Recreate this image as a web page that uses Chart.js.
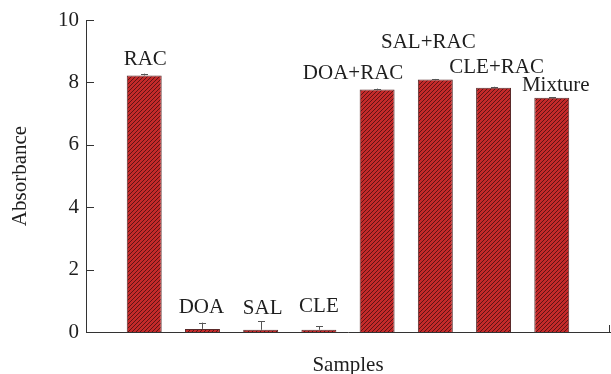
<!DOCTYPE html>
<html>
<head>
<meta charset="utf-8">
<script src="https://cdn.jsdelivr.net/npm/chart.js@4"></script>
<style>
  html, body { margin: 0; padding: 0; background: #fff; }
  #wrap { width: 611px; height: 374px; }
</style>
</head>
<body>
<div id="wrap"><canvas id="chart" width="611" height="374"></canvas></div>
<script>
// data
const samples = ["RAC", "DOA", "SAL", "CLE", "DOA+RAC", "SAL+RAC", "CLE+RAC", "Mixture"]
const absorbance = [8.22, 0.10, 0.07, 0.07, 7.77, 8.09, 7.83, 7.51]
const errors = [0.06, 0.20, 0.28, 0.11, 0.03, 0.02, 0.03, 0.02]
const yTicks = [0, 2, 4, 6, 8, 10]

// label nudges in px [dx, dy above error bar top] -- layout only
const labelNudge = [[1, 16], [-1, 17], [2, 14], [0, 21], [-24, 17], [-7, 38], [3, 21], [4, 13]]

const serif = "'Liberation Serif', 'DejaVu Serif', serif"
const ink = "#1e1e1e"

function hatch() {
  const c = document.createElement("canvas")
  c.width = 4
  c.height = 4
  const g = c.getContext("2d")
  g.fillStyle = "#c42a2a"
  g.fillRect(0, 0, 4, 4)
  g.strokeStyle = "#5e1414"
  g.lineWidth = 1
  g.beginPath()
  g.moveTo(0, 4); g.lineTo(4, 0)
  g.moveTo(-1, 1); g.lineTo(1, -1)
  g.moveTo(3, 5); g.lineTo(5, 3)
  g.stroke()
  return g.createPattern(c, "repeat")
}

// inward ticks, error bars and the sample names
const extras = {
  id: "extras",
  afterDatasetsDraw(chart) {
    const {ctx, scales: {x, y}} = chart
    ctx.save()
    ctx.strokeStyle = "#333"
    ctx.lineWidth = 1
    yTicks.forEach(t => {
      const py = Math.round(y.getPixelForValue(t)) + 0.5
      ctx.beginPath()
      ctx.moveTo(x.left, py)
      ctx.lineTo(x.left + 8, py)
      ctx.stroke()
    })
    const ex = Math.round(x.getPixelForValue(9)) - 0.5
    ctx.beginPath()
    ctx.moveTo(ex, y.bottom)
    ctx.lineTo(ex, y.bottom - 7)
    ctx.stroke()

    ctx.strokeStyle = "#555"
    absorbance.forEach((v, i) => {
      const px = Math.round(x.getPixelForValue(i + 1)) + 0.5
      const p0 = y.getPixelForValue(v)
      const p1 = y.getPixelForValue(v + errors[i])
      ctx.beginPath()
      ctx.moveTo(px, p0)
      ctx.lineTo(px, p1)
      ctx.moveTo(px - 3.5, Math.round(p1) + 0.5)
      ctx.lineTo(px + 3.5, Math.round(p1) + 0.5)
      ctx.stroke()
    })

    ctx.fillStyle = ink
    ctx.font = "21px " + serif
    ctx.textAlign = "center"
    ctx.textBaseline = "alphabetic"
    samples.forEach((s, i) => {
      const px = x.getPixelForValue(i + 1) + labelNudge[i][0]
      const top = y.getPixelForValue(absorbance[i] + errors[i])
      ctx.fillText(s, px, top - labelNudge[i][1] + 7)
    })
    ctx.restore()
  }
}

new Chart(document.getElementById("chart"), {
  type: "bar",
  data: {
    datasets: [{
      data: absorbance.map((v, i) => ({x: i + 1, y: v})),
      backgroundColor: hatch(),
      borderColor: "#5a2a2a",
      borderWidth: 1,
      barPercentage: 0.6,
      categoryPercentage: 1
    }]
  },
  options: {
    responsive: false,
    animation: false,
    layout: { padding: { top: 20, right: 1 } },
    plugins: { legend: { display: false }, tooltip: { enabled: false } },
    scales: {
      x: {
        type: "linear",
        min: 0,
        max: 9,
        offset: false,
        grid: { display: false, drawTicks: false },
        border: { color: "#333", width: 1 },
        ticks: { display: false },
        title: {
          display: true,
          text: "Samples",
          color: ink,
          font: { family: serif, size: 21 },
          padding: { top: 16, bottom: -4 }
        },
        afterFit(s) { s.height = 42 }
      },
      y: {
        min: 0,
        max: 10,
        grid: { display: false, drawTicks: false },
        border: { color: "#333", width: 1 },
        afterBuildTicks(s) { s.ticks = yTicks.map(v => ({value: v})) },
        ticks: {
          color: ink,
          padding: 7,
          font: { family: serif, size: 21 }
        },
        title: {
          display: true,
          text: "Absorbance",
          color: ink,
          font: { family: serif, size: 21 },
          padding: { top: 8, bottom: 0 }
        },
        afterFit(s) { s.width = 86 }
      }
    }
  },
  plugins: [extras]
})
</script>
</body>
</html>
